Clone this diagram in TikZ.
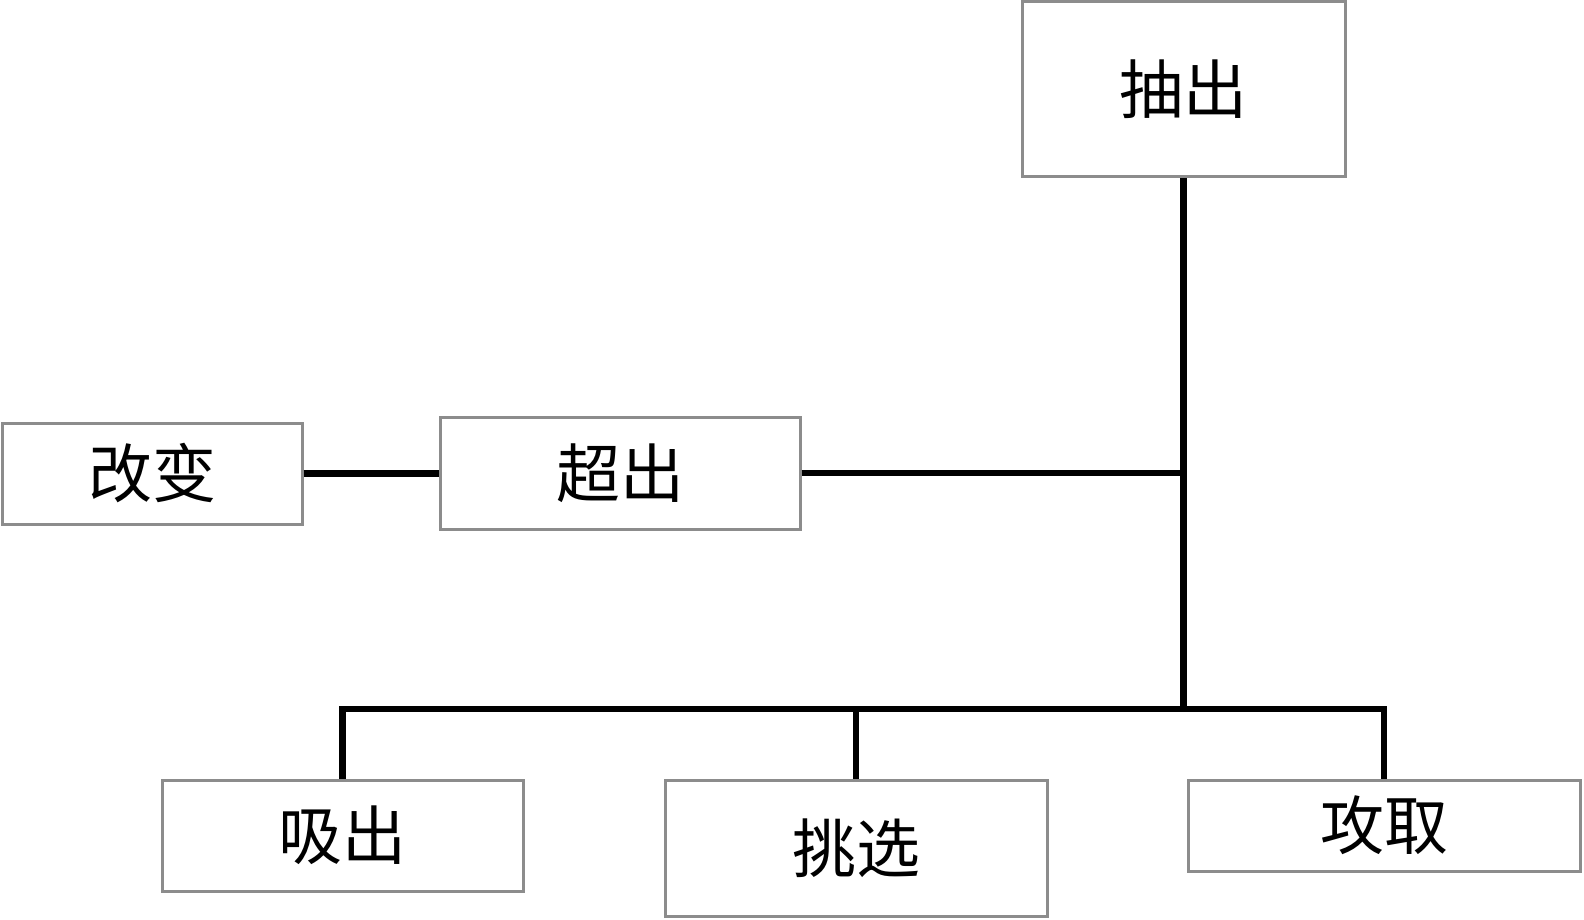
\documentclass[tikz,border=0pt]{standalone}
\usepackage{fontspec}
\newfontfamily\cjk{Noto Sans CJK SC}
\begin{document}
\begin{tikzpicture}[x=1pt,y=-1pt,
  box/.style={draw=black!45,line width=3pt,fill=white,rectangle,inner sep=0pt,
    font=\cjk\fontsize{64}{70}\selectfont},
  conn/.style={line width=6.5pt,black}]
\useasboundingbox (0,0) rectangle (1584,920);
\node[box,minimum width=323pt,minimum height=175pt] (chouchu) at (1183.5,89.5) {抽出};
\node[box,minimum width=300pt,minimum height=101pt] (gaibian) at (152,473.5) {改变};
\node[box,minimum width=360pt,minimum height=112pt] (chaochu) at (620,473) {超出};
\node[box,minimum width=361pt,minimum height=111pt] (xichu) at (342.5,835.5) {吸出};
\node[box,minimum width=382pt,minimum height=136pt] (tiaoxuan) at (856,848) {挑选};
\node[box,minimum width=392pt,minimum height=91pt] (gongqu) at (1384,825.5) {攻取};
\coordinate (K) at (chouchu.south |- chaochu.east);
\coordinate (J) at (chouchu.south |- 0,709);
\draw[conn] (chouchu.south) -- (J);
\draw[conn] (chaochu.east) -- (K);
\draw[conn] (gaibian.east) -- (gaibian.east -| chaochu.west);
\draw[conn] (xichu.north) |- (J);
\draw[conn] (gongqu.north) |- (J);
\draw[conn] (tiaoxuan.north) -- (tiaoxuan.north |- J);
\end{tikzpicture}
\end{document}
